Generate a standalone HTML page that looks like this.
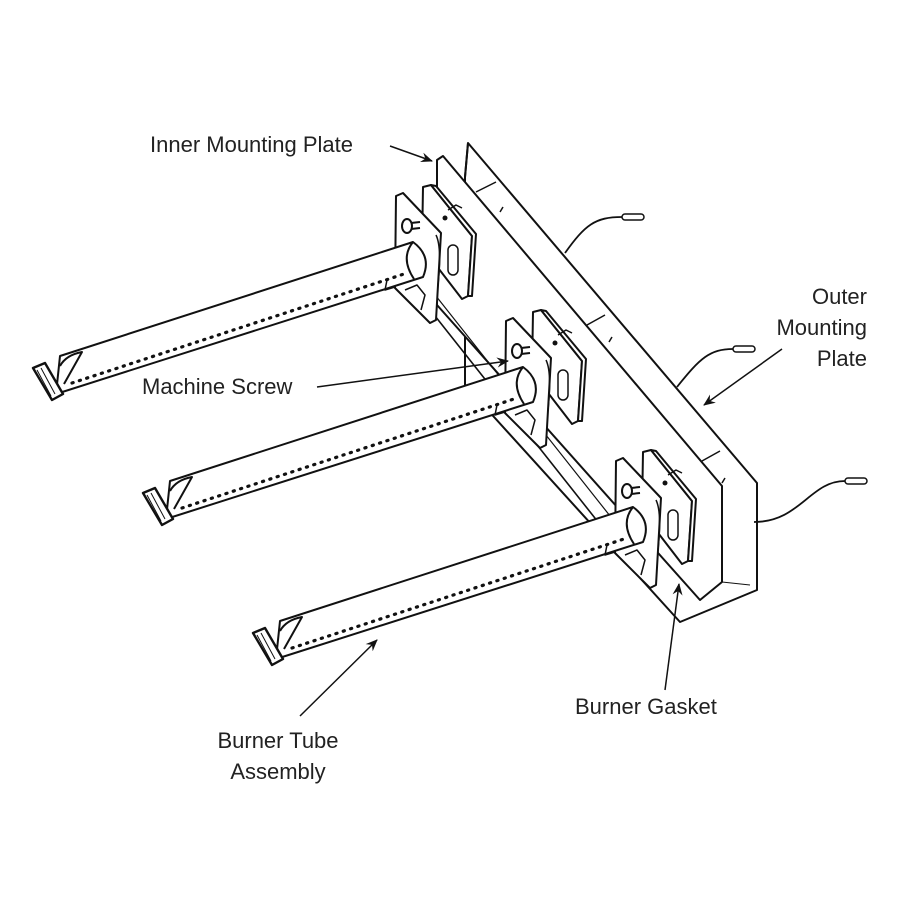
<!DOCTYPE html>
<html><head><meta charset="utf-8"><style>
html,body{margin:0;padding:0;background:#fff}
svg{display:block}
text{font-family:"Liberation Sans",Arial,sans-serif;font-size:22px;fill:#222}
</style></head><body>
<svg width="900" height="900" viewBox="0 0 900 900" xmlns="http://www.w3.org/2000/svg">
<defs>
<marker id="ah" markerWidth="12" markerHeight="10" refX="11" refY="5" orient="auto" markerUnits="userSpaceOnUse">
<path d="M0,0 L12,5 L0,10 L4,5 Z" fill="#111"/>
</marker>
<g id="asm" fill="#fff" stroke="#111" stroke-width="2" stroke-linejoin="round">
  <polygon points="423,187 431,185 472,236 468,296 462,299 422,247"/>
  <polygon points="431,185 436,186 476,234 472,296 468,296 472,236"/>
  <path d="M448,210 l8,-5 l6,3" fill="none" stroke-width="1.5"/>
  <circle cx="445" cy="218" r="2.5" fill="#111" stroke="none"/>
  <rect x="448" y="245" width="10" height="30" rx="5" stroke-width="1.5"/>
  <polygon points="396,196 403,193 441,233 436,320 430,323 395,288"/>
  <path d="M436,235 q6,12 2,50" fill="none" stroke-width="1.5"/>
  <ellipse cx="407" cy="226" rx="5" ry="7"/>
  <line x1="411" y1="223" x2="420" y2="222"/>
  <line x1="411" y1="229" x2="420" y2="228"/>
  <path d="M405,290 l12,-5 l8,10 l-4,15" fill="none" stroke-width="1.5"/>
  <path d="M60,356 L413,242 Q432,256 423,277 L56,394 Z"/>
  <path d="M413,242 Q400,258 414,279" fill="none"/>
  <path d="M60,366 Q66,355 82,352 L64,384" fill="#fff"/>
  <path d="M33,368 l12,-5 l18,31 l-11,6 Z" fill="#fff" stroke-width="2.4"/>
  <path d="M37,370 l14,26 M41,368 l14,26" stroke-width="1"/>
  <line x1="72" y1="383" x2="404" y2="274" stroke-width="3.2" stroke-dasharray="1.2,6.5" stroke-linecap="round"/>
  <path d="M387,280 l-2,10 l10,-3" fill="none" stroke-width="1.5"/>
</g>
</defs>

<g fill="none" stroke="#111" stroke-width="2" stroke-linejoin="round">
  <polygon points="468,143 757,483 757,590 680,622 465,385 465,177" fill="#fff"/>
  <polygon points="437,160 443,156 722,486 722,582 700,600 437,305" fill="#fff"/>
  <line x1="468" y1="143" x2="465" y2="177"/>
  <line x1="476" y1="192" x2="496" y2="182" stroke-width="1.5"/>
  <line x1="587" y1="325" x2="605" y2="315" stroke-width="1.5"/>
  <line x1="702" y1="461" x2="720" y2="451" stroke-width="1.5"/>
  <path d="M500,212 l3,-5 M609,342 l3,-5 M722,483 l3,-5" stroke-width="1.5"/>
  <line x1="722" y1="582" x2="750" y2="585" stroke-width="1"/>
  <line x1="420" y1="297" x2="640" y2="575" stroke-width="1.6"/>
  <line x1="432" y1="291" x2="652" y2="569" stroke-width="1.2"/>
  <path d="M565,253 C585,225 595,217 622,217" stroke-width="1.8"/>
  <rect x="622" y="214" width="22" height="6" rx="3" stroke-width="1.5"/>
  <path d="M677,387 C700,358 710,349 733,349" stroke-width="1.8"/>
  <rect x="733" y="346" width="22" height="6" rx="3" stroke-width="1.5"/>
  <path d="M754,522 C800,522 810,481 845,481" stroke-width="1.8"/>
  <rect x="845" y="478" width="22" height="6" rx="3" stroke-width="1.5"/>
</g>

<use href="#asm"/>
<use href="#asm" transform="translate(110,125)"/>
<use href="#asm" transform="translate(220,265)"/>

<text x="150" y="152">Inner Mounting Plate</text>
<line x1="390" y1="146" x2="432" y2="161" stroke="#111" stroke-width="1.5" marker-end="url(#ah)"/>
<text x="867" y="304" text-anchor="end">Outer</text>
<text x="867" y="335" text-anchor="end">Mounting</text>
<text x="867" y="366" text-anchor="end">Plate</text>
<line x1="782" y1="349" x2="704" y2="405" stroke="#111" stroke-width="1.5" marker-end="url(#ah)"/>
<text x="142" y="394">Machine Screw</text>
<line x1="317" y1="387" x2="508" y2="361" stroke="#111" stroke-width="1.5" marker-end="url(#ah)"/>
<text x="575" y="714">Burner Gasket</text>
<line x1="665" y1="690" x2="679" y2="584" stroke="#111" stroke-width="1.5" marker-end="url(#ah)"/>
<text x="278" y="748" text-anchor="middle">Burner Tube</text>
<text x="278" y="779" text-anchor="middle">Assembly</text>
<line x1="300" y1="716" x2="377" y2="640" stroke="#111" stroke-width="1.5" marker-end="url(#ah)"/>
</svg>
</body></html>
